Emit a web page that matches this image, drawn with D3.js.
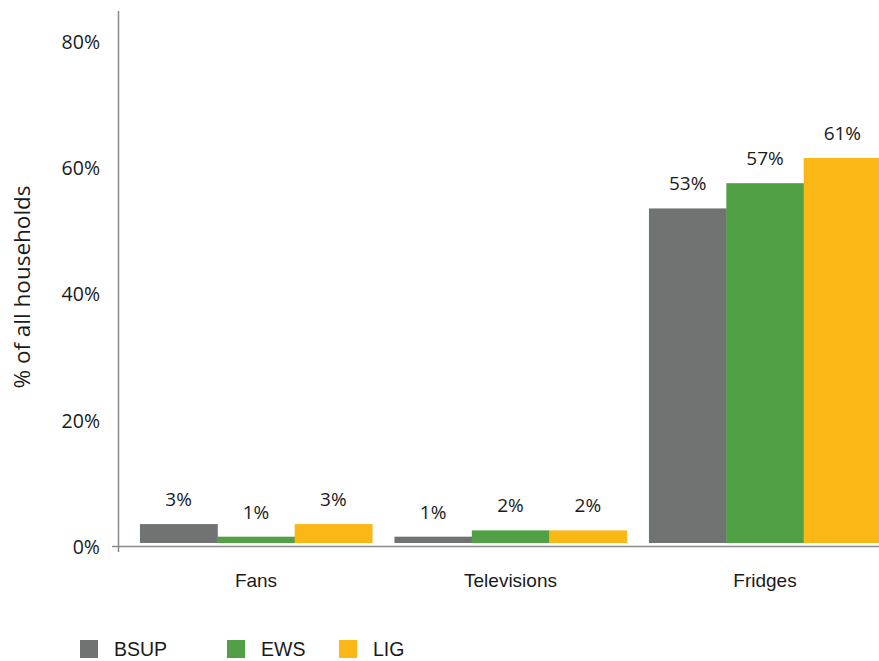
<!DOCTYPE html>
<html>
<head>
<meta charset="utf-8">
<script src="https://cdn.jsdelivr.net/npm/d3@7"></script>
<style>
  html, body { margin: 0; padding: 0; background: #fff; }
  svg { display: block; }
</style>
</head>
<body>
<svg id="chart" width="879" height="661"></svg>
<script>
// Appliance ownership by housing scheme
const categories = ["Fans", "Televisions", "Fridges"];
const seriesNames = ["BSUP", "EWS", "LIG"];
const bsupValues = [3, 1, 53];
const ewsValues = [1, 2, 57];
const ligValues = [3, 2, 61];
const yTicks = [0, 20, 40, 60, 80];
const seriesColors = ["#6f7472", "#52a046", "#fbb715"];

const seriesValues = [bsupValues, ewsValues, ligValues];
const rows = categories.map((c, i) => ({
  category: c,
  values: seriesNames.map((s, j) => ({ series: s, value: seriesValues[j][i] }))
}));

const svg = d3.select("#chart");
const W = 879, H = 661;

const y = d3.scaleLinear().domain([0, 80]).range([543, 38]);
const x = d3.scaleBand().domain(categories).range([128.75, 892.25])
  .paddingInner(0.088).paddingOuter(0.044);
const xs = d3.scaleBand().domain(seriesNames).range([0, x.bandwidth()]);
const color = d3.scaleOrdinal().domain(seriesNames).range(seriesColors);

const textFont = "'Open Sans', 'Noto Sans', sans-serif";
const labelFont = "'Liberation Sans', Arial, sans-serif";

// Bars
const groups = svg.append("g").selectAll("g").data(rows).join("g")
  .attr("transform", d => `translate(${x(d.category)},0)`);

groups.selectAll("rect").data(d => d.values).join("rect")
  .attr("x", d => xs(d.series))
  .attr("y", d => y(d.value))
  .attr("width", xs.bandwidth() + 0.5)
  .attr("height", d => y(0) - y(d.value))
  .attr("fill", d => color(d.series));

// Value labels
groups.selectAll("text").data(d => d.values).join("text")
  .attr("x", d => xs(d.series) + xs.bandwidth() / 2)
  .attr("y", d => y(d.value) - 18)
  .attr("text-anchor", "middle")
  .attr("font-family", textFont)
  .attr("font-size", 19)
  .attr("fill", "#1a1a1a")
  .text(d => d.value + "%");

// Axes lines
svg.append("line")
  .attr("x1", 112).attr("x2", W)
  .attr("y1", y(0) + 3.5).attr("y2", y(0) + 3.5)
  .attr("stroke", "#8a8a8a").attr("stroke-width", 1.5);
svg.append("line")
  .attr("x1", 118.5).attr("x2", 118.5)
  .attr("y1", 11).attr("y2", 552)
  .attr("stroke", "#8a8a8a").attr("stroke-width", 1.5);

// Y tick labels
const yAxis = d3.axisLeft(y).tickValues(yTicks).tickSize(0).tickPadding(0)
  .tickFormat(d => d + "%");
const gy = svg.append("g").attr("transform", "translate(100,4)").call(yAxis);
gy.select(".domain").remove();
gy.selectAll("text")
  .attr("font-family", textFont)
  .attr("font-size", 19.5)
  .attr("fill", "#1a1a1a");

// Y axis title
svg.append("text")
  .attr("transform", `translate(30,${(183 + 391) / 2}) rotate(-90)`)
  .attr("text-anchor", "middle")
  .attr("font-family", textFont)
  .attr("font-size", 22.5)
  .attr("fill", "#1a1a1a")
  .text("% of all households");

// Category labels
const xAxis = d3.axisBottom(x).tickSize(0).tickPadding(0);
const gx = svg.append("g").attr("transform", "translate(0,573)").call(xAxis);
gx.select(".domain").remove();
gx.selectAll("text")
  .attr("font-family", labelFont)
  .attr("font-size", 19)
  .attr("fill", "#1a1a1a");

// Legend
const legendX = [80, 227, 339];
const legend = svg.append("g").selectAll("g").data(seriesNames).join("g")
  .attr("transform", (d, i) => `translate(${legendX[i]},640)`);
legend.append("rect")
  .attr("width", 18).attr("height", 18)
  .attr("fill", d => color(d));
legend.append("text")
  .attr("x", 34).attr("y", 16)
  .attr("font-family", labelFont)
  .attr("font-size", 19.5)
  .attr("fill", "#1a1a1a")
  .text(d => d);
</script>
</body>
</html>
